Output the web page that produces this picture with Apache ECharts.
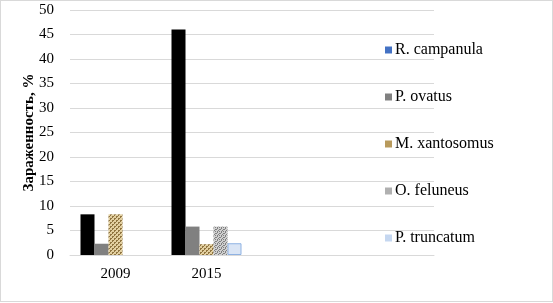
<!DOCTYPE html>
<html>
<head>
<meta charset="utf-8">
<script src="https://cdn.jsdelivr.net/npm/echarts@6/dist/echarts.min.js"></script>
<style>
  html, body { margin: 0; padding: 0; background: #fff; }
  #frame { position: absolute; left: 0; top: 0; width: 551px; height: 300px; border: 1px solid #d9d9d9; }
  #chart { width: 553px; height: 303px; position: absolute; left: 0; top: 0; }
</style>
</head>
<body>
<div id="frame"></div>
<div id="chart"></div>
<script>
// data
const years = ['2009', '2015', '', ''];
const seriesNames = ['R. campanula', 'P. ovatus', 'M. xantosomus', 'O. feluneus', 'P. truncatum'];
const campanula = [8.3, 46];
const ovatus = [2.3, 5.8];
const xantosomus = [8.3, 2.2];
const feluneus = [null, 5.8];
const truncatum = [null, 2.4];
const yTicks = [0, 5, 10, 15, 20, 25, 30, 35, 40, 45, 50];

// little fill textures, like the office ones
function makePattern(bg, fg, cells) {
  const c = document.createElement('canvas');
  c.width = 4; c.height = 4;
  const g = c.getContext('2d');
  g.fillStyle = bg;
  g.fillRect(0, 0, 4, 4);
  g.fillStyle = fg;
  cells.forEach(p => g.fillRect(p[0], p[1], 1, 1));
  return { image: c, repeat: 'repeat' };
}
const tanFill = makePattern('#e2cfa0', '#8f7440', [[0, 0], [1, 0], [0, 1], [2, 2], [3, 2], [2, 3]]);
const greyFill = makePattern('#d0d0d0', '#808080', [[1, 0], [0, 1], [3, 1], [2, 2], [1, 3], [3, 3]]);

const chart = echarts.init(document.getElementById('chart'));
const serif = 'Liberation Serif, Times New Roman, serif';

const styles = [
  { color: '#000000' },
  { color: '#808080' },
  { color: tanFill },
  { color: greyFill },
  { color: '#dae5f5', borderColor: '#8fb2e3', borderWidth: 1 }
];
const legendColors = ['#4472c4', '#808080', '#b89a5c', '#b0b0b0', '#c5d7f0'];
const values = [campanula, ovatus, xantosomus, feluneus, truncatum];

chart.setOption({
  animation: false,
  textStyle: { fontFamily: serif },
  grid: { left: 70, right: 119, top: 10, bottom: 48 },
  legend: {
    orient: 'vertical',
    left: 380,
    top: 37,
    itemGap: 31,
    itemWidth: 7,
    itemHeight: 7,
    icon: 'rect',
    textStyle: { fontFamily: serif, fontSize: 16, color: '#000', padding: [0, 0, 0, -2] },
    data: seriesNames.map((n, i) => ({ name: n, itemStyle: { color: legendColors[i], borderWidth: 0 } }))
  },
  xAxis: {
    type: 'category',
    data: years,
    axisLine: { lineStyle: { color: '#d9d9d9' } },
    axisTick: { show: false },
    axisLabel: { color: '#000', fontSize: 15, fontFamily: serif, margin: 12 }
  },
  yAxis: {
    type: 'value',
    min: yTicks[0],
    max: yTicks[yTicks.length - 1],
    interval: 5,
    name: 'Зараженность, %',
    nameLocation: 'middle',
    nameGap: 33,
    nameMoveOverlap: false,
    nameTextStyle: { fontFamily: serif, fontSize: 15, fontWeight: 'bold', color: '#000' },
    axisLine: { show: false },
    axisTick: { show: false },
    axisLabel: { color: '#000', fontSize: 15, fontFamily: serif, margin: 16 },
    splitLine: { lineStyle: { color: '#d9d9d9' } }
  },
  series: seriesNames.map((n, i) => ({
    name: n,
    type: 'bar',
    barWidth: 14,
    barGap: '0%',
    itemStyle: styles[i],
    data: values[i]
  }))
});
</script>
</body>
</html>
